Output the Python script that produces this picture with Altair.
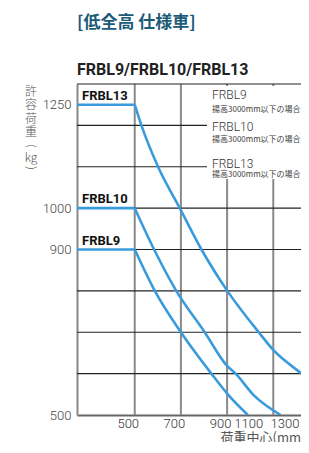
import altair as alt
import pandas as pd

# ---- data ----
models = ["FRBL9", "FRBL10", "FRBL13"]
rated_load = [900, 1000, 1250]
flat_x = [250, 500]

frbl9_x = [500, 587, 700, 832, 906, 990]
frbl9_y = [900, 800, 700, 600, 548, 500]
frbl10_x = [500, 584, 680, 803, 898, 937, 1015, 1132]
frbl10_y = [1000, 900, 800, 700, 620, 600, 548, 500]
frbl13_x = [500, 529, 601, 695, 789, 901, 1037, 1102, 1222, 1260, 1350]
frbl13_y = [1250, 1200, 1100, 1000, 900, 800, 700, 656, 600, 582, 545]

x_ticks = [500, 700, 900, 1100, 1300]
y_ticks = [500, 900, 1000, 1250]
v_grid = [500, 700, 900, 1100, 1300]
h_grid = [600, 700, 800, 900, 1000, 1100, 1200, 1300]
legend_names = ["FRBL9", "FRBL10", "FRBL13"]
legend_note = "揚高3000mm以下の場合"
title_text = "[低全高 仕様車]"
subtitle_text = "FRBL9/FRBL10/FRBL13"
x_title = "荷重中心(mm)"
y_title_chars = ["許", "容", "荷", "重", "(", "kg", ")"]

# ---- build tables ----
rows = []
curves = {"FRBL9": (frbl9_x, frbl9_y), "FRBL10": (frbl10_x, frbl10_y), "FRBL13": (frbl13_x, frbl13_y)}
for m, load in zip(models, rated_load):
    for xv in flat_x:
        rows.append({"model": m, "seg": m + "_flat", "x": xv, "y": load})
    cx, cy = curves[m]
    for xv, yv in zip(cx, cy):
        rows.append({"model": m, "seg": m + "_curve", "x": xv, "y": yv})
df = pd.DataFrame(rows)
labels_df = pd.DataFrame({"model": models, "x": [flat_x[0]] * 3, "y": rated_load})

XDOM = [250, 1350]
YDOM = [500, 1300]
xs = alt.Scale(domain=XDOM, nice=False, zero=False)
ys = alt.Scale(domain=YDOM, nice=False, zero=False)
FONT = "Roboto"
CJK = "Noto Sans CJK JP"
BLUE = "#3a9bdc"
PLOT_W, PLOT_H = 254, 331
SVG_W, SVG_H = 293, 434

base_x_axis = alt.Axis(
    values=x_ticks, format="d", grid=False, ticks=False, domain=True, domainColor="#666", domainWidth=2,
    labelFont=FONT, labelFontSize=13, labelFontWeight=300, labelColor="#333", labelPadding=2,
    labelOffset={"condition": [{"test": "datum.value == 1100", "value": -25},
                               {"test": "datum.value == 1300", "value": -35}], "value": -7},
    title=x_title, titleFont=CJK, titleFontSize=13, titleFontWeight="normal",
    titleColor="#555", titleAnchor="start", titleAlign="left", titleX=143, titleY=16,
    titleBaseline="top",
)
base_y_axis = alt.Axis(
    values=y_ticks, format="d", grid=False, ticks=False, domain=True, domainColor="#888", domainWidth=2,
    labelFont=FONT, labelFontSize=13, labelFontWeight=300, labelColor="#444", labelPadding=6,
    title="",
)

hgrid = alt.Chart(pd.DataFrame({"v": h_grid})).mark_rule(color="#222", strokeWidth=1.2).encode(
    y=alt.Y("v:Q", scale=ys, axis=base_y_axis)
)
vgrid = alt.Chart(pd.DataFrame({"v": v_grid})).mark_rule(color="#8a8a8a", strokeWidth=2, clip=True).encode(
    x=alt.X("v:Q", scale=xs, axis=base_x_axis)
)

lines = alt.Chart(df).mark_line(color=BLUE, strokeWidth=2.6, interpolate="monotone", clip=True).encode(
    x=alt.X("x:Q", scale=xs),
    y=alt.Y("y:Q", scale=ys),
    detail="seg:N",
)

line_labels = alt.Chart(labels_df).mark_text(
    font=FONT, fontWeight="bold", fontSize=13, color="#111", align="left", baseline="bottom", dx=5, dy=-2
).encode(x=alt.X("x:Q", scale=xs), y=alt.Y("y:Q", scale=ys), text="model:N")

legend_box = alt.Chart(pd.DataFrame({"a": [0]})).mark_rect(color="white").encode(
    x=alt.value(130), x2=alt.value(260), y=alt.value(2), y2=alt.value(95)
)

extra_layers = []
name_y = [15, 47, 84]
note_y = [28, 58, 93]
for nm, ny, ty in zip(legend_names, name_y, note_y):
    extra_layers.append(
        alt.Chart(pd.DataFrame({"t": [nm]})).mark_text(
            font=FONT, fontSize=12, fontWeight=300, color="#333", align="left", baseline="alphabetic"
        ).encode(x=alt.value(135), y=alt.value(ny), text="t:N")
    )
    extra_layers.append(
        alt.Chart(pd.DataFrame({"t": [legend_note]})).mark_text(
            font=CJK, fontSize=8, color="#444", align="left", baseline="alphabetic"
        ).encode(x=alt.value(135), y=alt.value(ty), text="t:N")
    )

# vertical y-axis title, one glyph per line
char_y = [7.5, 21, 34.5, 48, 62, 73.5, 84]
for ch, cy in zip(y_title_chars, char_y):
    ang = 90 if ch in ("(", ")") else 0
    extra_layers.append(
        alt.Chart(pd.DataFrame({"t": [ch]})).mark_text(
            font=CJK, fontSize=12, fontWeight=300, color="#555", align="center", baseline="middle", angle=ang
        ).encode(x=alt.value(-46), y=alt.value(cy), text="t:N")
    )

chart = alt.layer(vgrid, hgrid, lines, line_labels, legend_box, *extra_layers).properties(
    width=PLOT_W, height=PLOT_H,
    autosize=alt.AutoSizeParams(type="none"),
    padding={"left": 69, "top": 76, "right": SVG_W - 69 - PLOT_W, "bottom": SVG_H - 76 - PLOT_H},
    title=alt.TitleParams(
        text=title_text, subtitle=subtitle_text, anchor="start", frame="group",
        font=CJK, fontSize=17, fontWeight="bold", color="#1c5a78",
        subtitleFont=FONT, subtitleFontSize=16, subtitleFontWeight="bold", subtitleColor="#222",
        subtitlePadding=30, offset=4,
    ),
).configure_view(stroke=None)

chart.save("out.html", embed_options={"renderer": "svg", "actions": False})
